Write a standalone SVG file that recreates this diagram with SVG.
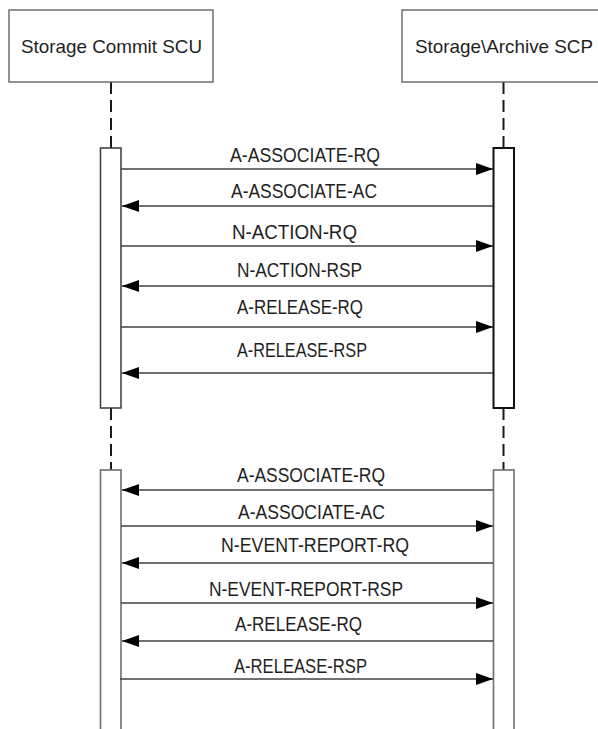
<svg xmlns="http://www.w3.org/2000/svg" width="598" height="729" viewBox="0 0 598 729">
<style>
text{font-family:"Liberation Sans",Arial,sans-serif;font-size:20.5px;fill:#1f1f1f;text-anchor:middle}
text.hd{font-size:19px}
.box{fill:#fff;stroke:#595959;stroke-width:1.3}
.life{stroke:#1a1a1a;stroke-width:2;stroke-dasharray:12 6;fill:none}
.bar1{fill:#fff;stroke:#3a3a3a;stroke-width:1.5}
.bar1b{fill:#fff;stroke:#111;stroke-width:2}
.bar2{fill:#fff;stroke:#6e6e6e;stroke-width:1.6}
.msg{stroke:#404040;stroke-width:1.4;fill:none;marker-end:url(#ah)}
</style>
<defs>
<marker id="ah" viewBox="0 0 17 12" refX="17" refY="6" markerWidth="17" markerHeight="12" markerUnits="userSpaceOnUse" orient="auto">
<path d="M0,0 L17,6 L0,12 z" fill="#000"/>
</marker>
</defs>
<rect width="598" height="729" fill="#fff"/>
<g id="lifelines">
<line class="life" x1="111" y1="82" x2="111" y2="148"/>
<line class="life" x1="503.5" y1="82" x2="503.5" y2="148"/>
<line class="life" x1="111" y1="408" x2="111" y2="470"/>
<line class="life" x1="503.5" y1="408" x2="503.5" y2="470"/>
</g>
<g id="scu">
<rect class="box" x="9" y="10" width="204" height="72"/>
<text class="hd" x="111.5" y="53" textLength="181" lengthAdjust="spacingAndGlyphs">Storage Commit SCU</text>
</g>
<g id="scp">
<rect class="box" x="402" y="10" width="204" height="72"/>
<text class="hd" x="504" y="53" textLength="178" lengthAdjust="spacingAndGlyphs">Storage\Archive SCP</text>
</g>
<g id="scu-act1"><rect class="bar1" x="100.5" y="148" width="20.5" height="260"/></g>
<g id="scp-act1"><rect class="bar1b" x="493.5" y="148" width="20.5" height="260"/></g>
<g id="scu-act2"><rect class="bar2" x="100.5" y="470" width="20.5" height="270"/></g>
<g id="scp-act2"><rect class="bar2" x="493.5" y="470" width="20.5" height="270"/></g>
<g id="connectors">
<line class="msg" x1="121" y1="169" x2="493" y2="169"/>
<line class="msg" x1="493" y1="206" x2="122" y2="206"/>
<line class="msg" x1="121" y1="246" x2="493" y2="246"/>
<line class="msg" x1="493" y1="286" x2="122" y2="286"/>
<line class="msg" x1="121" y1="327" x2="493" y2="327"/>
<line class="msg" x1="493" y1="373" x2="122" y2="373"/>
<line class="msg" x1="493" y1="490" x2="122" y2="490"/>
<line class="msg" x1="121" y1="526" x2="493" y2="526"/>
<line class="msg" x1="493" y1="563" x2="122" y2="563"/>
<line class="msg" x1="121" y1="603" x2="493" y2="603"/>
<line class="msg" x1="493" y1="641" x2="122" y2="641"/>
<line class="msg" x1="120" y1="679" x2="493" y2="679"/>
</g>
<g id="labels">
<text x="305" y="162" textLength="150" lengthAdjust="spacingAndGlyphs">A-ASSOCIATE-RQ</text>
<text x="304" y="198" textLength="146" lengthAdjust="spacingAndGlyphs">A-ASSOCIATE-AC</text>
<text x="294.5" y="239" textLength="125" lengthAdjust="spacingAndGlyphs">N-ACTION-RQ</text>
<text x="299.5" y="277" textLength="125" lengthAdjust="spacingAndGlyphs">N-ACTION-RSP</text>
<text x="300" y="314" textLength="126" lengthAdjust="spacingAndGlyphs">A-RELEASE-RQ</text>
<text x="302" y="357" textLength="130" lengthAdjust="spacingAndGlyphs">A-RELEASE-RSP</text>
<text x="311" y="482" textLength="148" lengthAdjust="spacingAndGlyphs">A-ASSOCIATE-RQ</text>
<text x="311.5" y="519" textLength="147" lengthAdjust="spacingAndGlyphs">A-ASSOCIATE-AC</text>
<text x="315" y="552" textLength="188" lengthAdjust="spacingAndGlyphs">N-EVENT-REPORT-RQ</text>
<text x="306" y="596" textLength="194" lengthAdjust="spacingAndGlyphs">N-EVENT-REPORT-RSP</text>
<text x="298.5" y="631" textLength="127" lengthAdjust="spacingAndGlyphs">A-RELEASE-RQ</text>
<text x="300.5" y="673" textLength="133" lengthAdjust="spacingAndGlyphs">A-RELEASE-RSP</text>
</g>
</svg>
